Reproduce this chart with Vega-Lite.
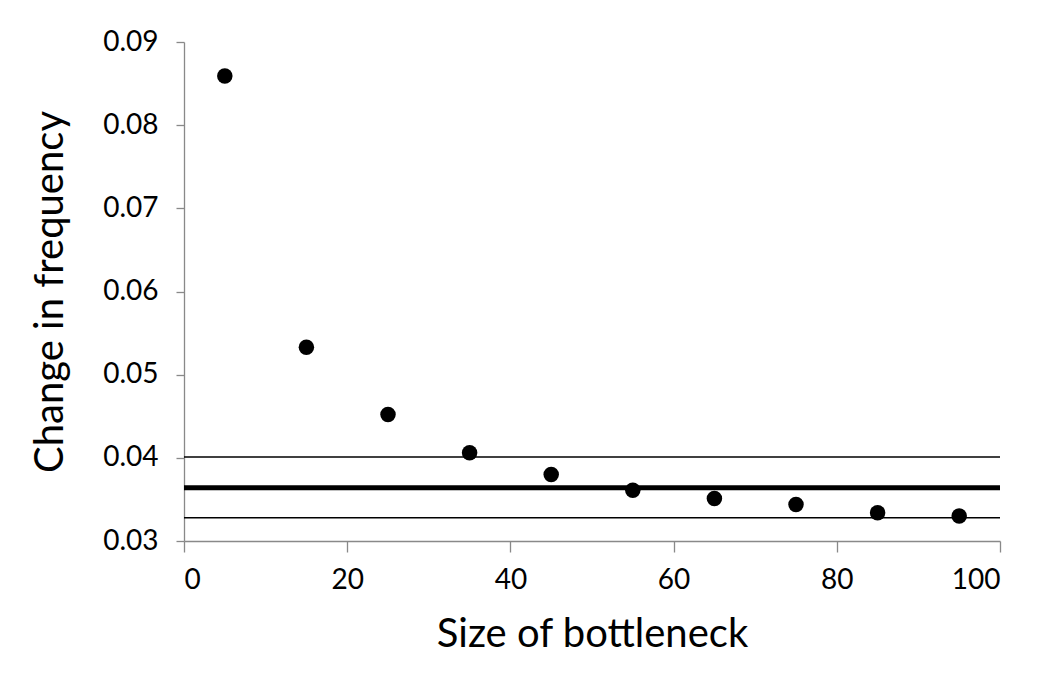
{
  "$schema": "https://vega.github.io/schema/vega-lite/v6.json",
  "autosize": "none",
  "width": 816,
  "height": 499,
  "padding": {"left": 184, "top": 42, "right": 44, "bottom": 152},
  "background": "white",
  "config": {
    "view": {"stroke": null},
    "font": "Lato",
    "axis": {
      "grid": false,
      "domainColor": "#898989",
      "tickColor": "#898989",
      "domainWidth": 1.3,
      "tickWidth": 1.3,
      "labelFont": "Lato",
      "titleFont": "Lato",
      "labelColor": "#000",
      "titleColor": "#000",
      "labelFontSize": 28,
      "titleFontSize": 40,
      "titleFontWeight": "normal"
    }
  },
  "datasets": {
    "points": [
      {"size": 5, "change": 0.0859},
      {"size": 15, "change": 0.0533},
      {"size": 25, "change": 0.0452},
      {"size": 35, "change": 0.0406},
      {"size": 45, "change": 0.0380},
      {"size": 55, "change": 0.0361},
      {"size": 65, "change": 0.0351},
      {"size": 75, "change": 0.0344},
      {"size": 85, "change": 0.0334},
      {"size": 95, "change": 0.0330}
    ],
    "lines": [
      {"level": 0.0401, "kind": "bound", "start": 0, "end": 100},
      {"level": 0.0364, "kind": "mean", "start": 0, "end": 100},
      {"level": 0.0328, "kind": "bound", "start": 0, "end": 100}
    ]
  },
  "layer": [
    {
      "data": {"name": "lines"},
      "mark": {"type": "rule", "color": "black"},
      "encoding": {
        "y": {"field": "level", "type": "quantitative", "scale": {"domain": [0.03, 0.09]}},
        "x": {"field": "start", "type": "quantitative", "scale": {"domain": [0, 100]}},
        "x2": {"field": "end"},
        "strokeWidth": {
          "field": "kind",
          "type": "nominal",
          "scale": {"domain": ["bound", "mean"], "range": [1.4, 5]},
          "legend": null
        }
      }
    },
    {
      "data": {"name": "points"},
      "mark": {"type": "circle", "color": "black", "opacity": 1, "size": 240},
      "encoding": {
        "x": {
          "field": "size",
          "type": "quantitative",
          "scale": {"domain": [0, 100], "nice": false},
          "axis": {
            "title": "Size of bottleneck",
            "values": [0, 20, 40, 60, 80, 100],
            "tickSize": 11,
            "labelPadding": 14,
            "titlePadding": 20
          }
        },
        "y": {
          "field": "change",
          "type": "quantitative",
          "scale": {"domain": [0.03, 0.09], "nice": false, "zero": false},
          "axis": {
            "title": "Change in frequency",
            "values": [0.03, 0.04, 0.05, 0.06, 0.07, 0.08, 0.09],
            "format": ".2f",
            "tickSize": 8,
            "labelPadding": 18,
            "titlePadding": 32
          }
        }
      }
    }
  ]
}
